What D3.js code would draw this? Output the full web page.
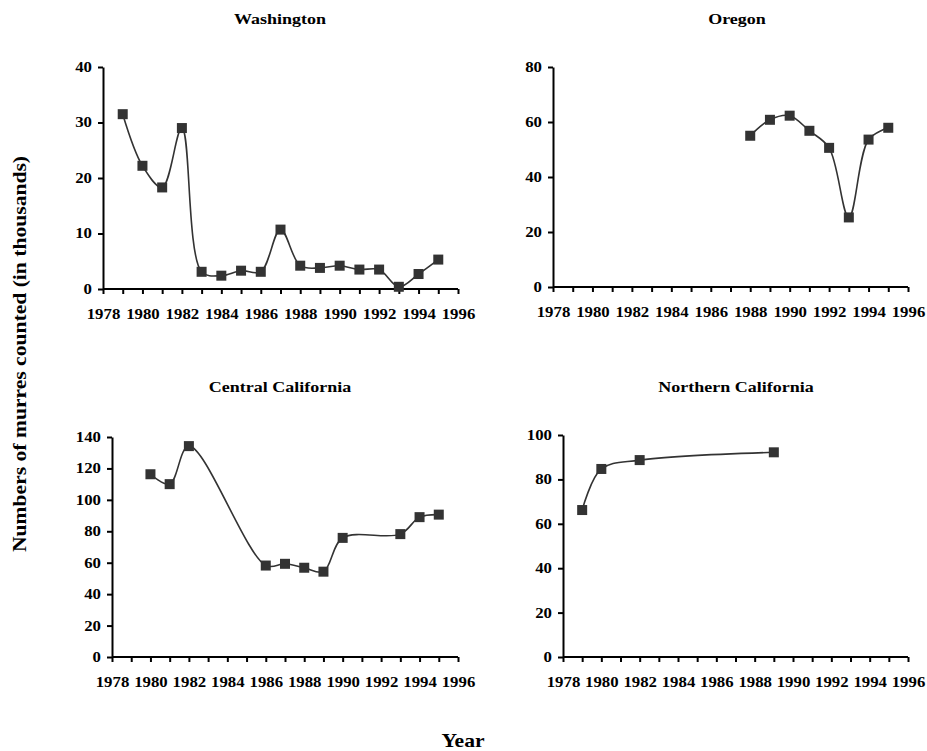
<!DOCTYPE html>
<html>
<head>
<meta charset="utf-8">
<script src="https://cdn.jsdelivr.net/npm/d3@7"></script>
<style>
  body { margin: 0; background: #fff; }
  text { font-family: "Liberation Serif", "Times New Roman", serif; font-weight: bold; fill: #000; }
</style>
</head>
<body>
<div id="chart"></div>
<script>
// data (thousands of murres)
var waYears = [1979, 1980, 1981, 1982, 1983, 1984, 1985, 1986, 1987, 1988, 1989, 1990, 1991, 1992, 1993, 1994, 1995];
var waCounts = [31.5, 22.2, 18.3, 29.0, 3.1, 2.4, 3.3, 3.1, 10.7, 4.2, 3.8, 4.2, 3.5, 3.5, 0.4, 2.7, 5.3];

var orYears = [1988, 1989, 1990, 1991, 1992, 1993, 1994, 1995];
var orCounts = [55, 60.8, 62.3, 56.8, 50.6, 25.3, 53.6, 57.9];

var ccYears = [1980, 1981, 1982, 1986, 1987, 1988, 1989, 1990, 1993, 1994, 1995];
var ccCounts = [116.3, 110, 134.2, 58.2, 59.3, 56.8, 54.3, 75.8, 78.2, 89, 90.6];

var ncYears = [1979, 1980, 1982, 1989];
var ncCounts = [66.2, 84.7, 88.7, 92.2];

var allYears = d3.range(1978, 1997);

var svgWidth = 927;
var svgHeight = 751;
var serif = '"Liberation Serif", "Times New Roman", serif';

var svg = d3.select("#chart")
  .append("svg")
  .attr("width", svgWidth)
  .attr("height", svgHeight);

var panels = [
  { title: "Washington", years: waYears, counts: waCounts, yMax: 40, yStep: 10,
    left: 103, right: 458, top: 67, bottom: 289, titleX: 280, titleY: 24 },
  { title: "Oregon", years: orYears, counts: orCounts, yMax: 80, yStep: 20,
    left: 553, right: 908, top: 67, bottom: 287, titleX: 737, titleY: 24 },
  { title: "Central California", years: ccYears, counts: ccCounts, yMax: 140, yStep: 20,
    left: 112, right: 458, top: 437, bottom: 657, titleX: 280, titleY: 392 },
  { title: "Northern California", years: ncYears, counts: ncCounts, yMax: 100, yStep: 20,
    left: 563, right: 908, top: 435, bottom: 657, titleX: 736, titleY: 392 }
];

var stretch = "scale(1.2,1)";

panels.forEach(function(p) {
  var x = d3.scaleLinear().domain([1978, 1996]).range([p.left, p.right]);
  var y = d3.scaleLinear().domain([0, p.yMax]).range([p.bottom, p.top]);

  var g = svg.append("g");

  g.append("text")
    .attr("transform", `translate(${p.titleX}, ${p.titleY}) ${stretch}`)
    .style("text-anchor", "middle")
    .style("font-size", "15px")
    .text(p.title);

  var xAxis = g.append("g")
    .attr("transform", `translate(0, ${p.bottom})`)
    .call(d3.axisBottom(x)
      .tickValues(allYears)
      .tickFormat(d => d % 2 === 0 ? d : "")
      .tickSize(5)
      .tickPadding(15));

  var yAxis = g.append("g")
    .attr("transform", `translate(${p.left}, 0)`)
    .call(d3.axisLeft(y)
      .tickValues(d3.range(0, p.yMax + 1, p.yStep))
      .tickSize(5)
      .tickSizeOuter(0)
      .tickPadding(6));

  [xAxis, yAxis].forEach(function(ax) {
    ax.attr("font-family", serif).attr("font-size", 14);
    ax.select(".domain").attr("stroke", "#000").attr("stroke-width", 2);
    ax.selectAll(".tick line").attr("stroke", "#000").attr("stroke-width", 2);
    ax.selectAll(".tick text")
      .attr("fill", "#000")
      .style("font-family", serif)
      .style("font-weight", "bold")
      .style("font-size", "14px");
  });
  xAxis.select(".domain").attr("d", `M${p.left},0H${p.right}`);
  xAxis.selectAll(".tick text").attr("transform", stretch);
  yAxis.selectAll(".tick text")
    .attr("x", -11 / 1.2)
    .attr("transform", stretch);

  var line = d3.line()
    .x((d, i) => x(p.years[i]))
    .y(d => y(d))
    .curve(d3.curveCatmullRom.alpha(0.5));

  g.append("path")
    .datum(p.counts)
    .attr("d", line)
    .attr("fill", "none")
    .attr("stroke", "#333")
    .attr("stroke-width", 1.6);

  g.selectAll("rect.marker")
    .data(p.counts)
    .enter()
    .append("rect")
    .classed("marker", true)
    .attr("x", (d, i) => x(p.years[i]) - 5)
    .attr("y", d => y(d) - 5)
    .attr("width", 10)
    .attr("height", 10)
    .attr("fill", "#333");
});

svg.append("text")
  .attr("transform", `translate(26, 354) rotate(-90) ${stretch}`)
  .style("text-anchor", "middle")
  .style("font-size", "18px")
  .text("Numbers of murres counted (in thousands)");

svg.append("text")
  .attr("transform", `translate(463, 747) ${stretch}`)
  .style("text-anchor", "middle")
  .style("font-size", "18px")
  .text("Year");
</script>
</body>
</html>
